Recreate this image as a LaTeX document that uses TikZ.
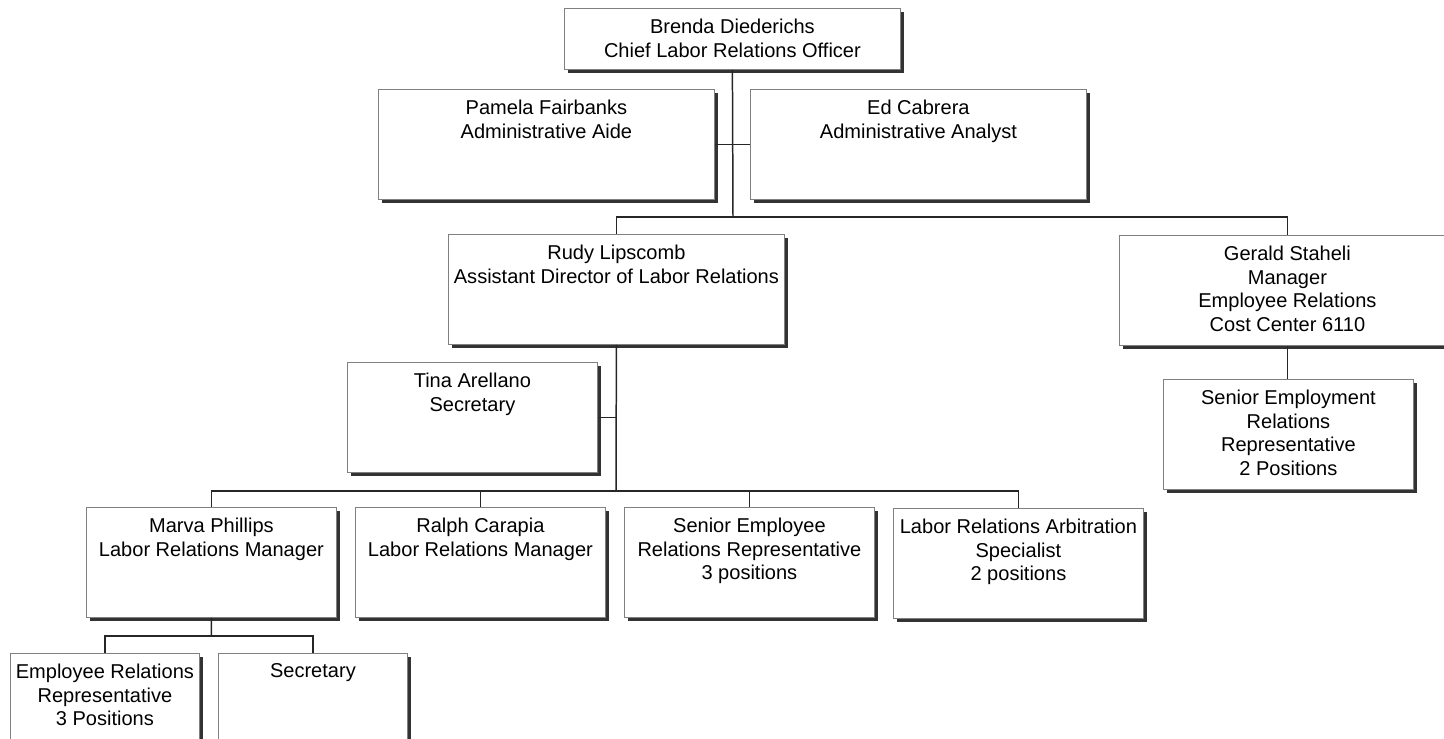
\documentclass[tikz,border=0pt]{standalone}
\usepackage{fontspec}
\setmainfont{Liberation Sans}
\usepackage{xcolor}
\usepackage{tikz}
\usetikzlibrary{shadows}

\begin{document}
\begin{tikzpicture}[
    x=0.02cm, y=-0.02cm,
    box/.style={rectangle, draw=black!50, line width=0.5pt, fill=white, anchor=north west, inner sep=0pt,
        minimum width=5cm, minimum height=2.2cm,
        drop shadow={shadow xshift=0.07cm, shadow yshift=-0.07cm, fill=black!80, opacity=1}},
    widebox/.style={box, minimum width=6.72cm},
    smallbox/.style={box, minimum width=3.78cm, minimum height=1.72cm},
    txt/.style={font=\fontsize{11.4}{13.5}\selectfont, text=black, align=center, inner sep=0pt, anchor=north, yshift=-0.21cm},
    line/.style={draw=black!85, line width=0.85pt}
]
\useasboundingbox (0,0) rectangle (1444,739);

% Top
\node[widebox, minimum height=1.22cm, label={[txt]north:Brenda Diederichs\\Chief Labor Relations Officer}] (brenda) at (564,8) {};
\node[widebox, label={[txt]north:Pamela Fairbanks\\Administrative Aide}] (pamela) at (378,89) {};
\node[widebox, label={[txt]north:Ed Cabrera\\Administrative Analyst}] (ed) at (750,89) {};

% Middle
\node[widebox, label={[txt]north:Rudy Lipscomb\\Assistant Director of Labor Relations}] (rudy) at (448,234) {};
\node[widebox, label={[txt]north:Gerald Staheli\\Manager\\Employee Relations\\Cost Center 6110}] (gerald) at (1119,235) {};
\node[box, label={[txt]north:Tina Arellano\\Secretary}] (tina) at (347,362) {};
\node[box, label={[txt]north:Senior Employment\\Relations\\Representative\\2 Positions}] (senemp) at (1163,379) {};

% Bottom
\node[box, label={[txt]north:Marva Phillips\\Labor Relations Manager}] (marva) at (86,507) {};
\node[box, label={[txt]north:Ralph Carapia\\Labor Relations Manager}] (ralph) at (355,507) {};
\node[box, label={[txt]north:Senior Employee\\Relations Representative\\3 positions}] (seniorrep) at (624,507) {};
\node[box, label={[txt]north:Labor Relations Arbitration\\Specialist\\2 positions}] (arbitration) at (893,508) {};
\node[smallbox, label={[txt]north:Employee Relations\\Representative\\3 Positions}] (emprep) at (10,653) {};
\node[smallbox, label={[txt]north:Secretary}] (secretary) at (218,653) {};

% Lines
\coordinate (bus1) at (733,217);
\coordinate (bus2) at (616,491);
\coordinate (bus3) at (211.5,636);
\draw[line] (brenda.south) -- (bus1);
\draw[line] (pamela.east) -- (ed.west);
\draw[line] (rudy.north) |- (bus1) -| (gerald.north);
\draw[line] (rudy.south) -- (bus2);
\draw[line] (tina.east) -- (tina.east -| rudy.south);
\draw[line] (gerald.south) -- (gerald.south |- senemp.north);
\draw[line] (marva.north) |- (bus2) -| (arbitration.north);
\draw[line] (ralph.north) -- (ralph.north |- bus2);
\draw[line] (seniorrep.north) -- (seniorrep.north |- bus2);
\draw[line] (marva.south) -- (bus3);
\draw[line] (emprep.north) |- (bus3) -| (secretary.north);

\end{tikzpicture}
\end{document}
